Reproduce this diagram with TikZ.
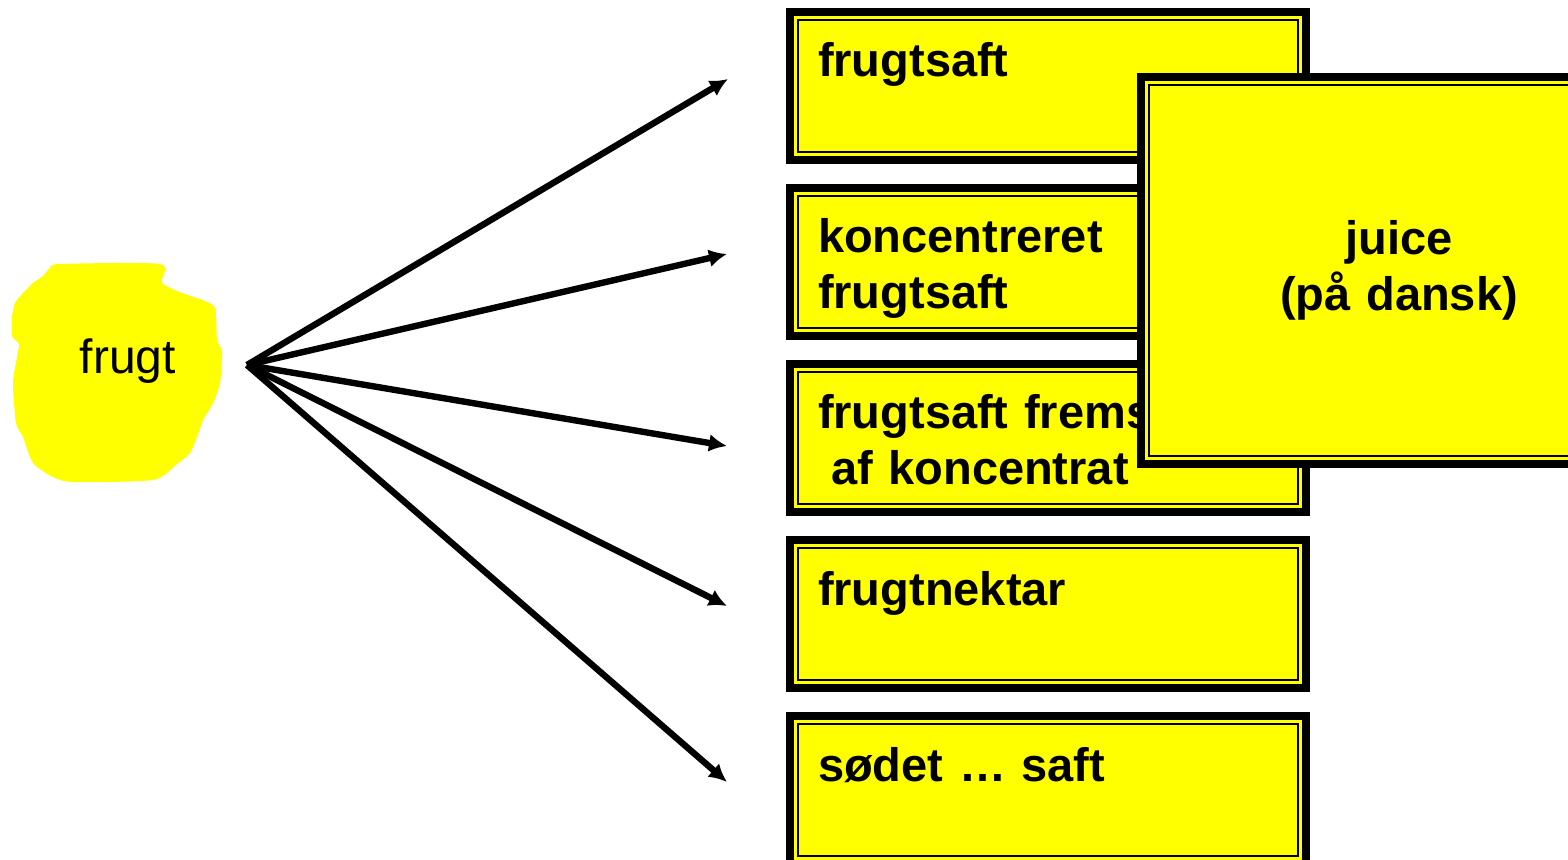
\documentclass[tikz,border=0pt]{standalone}
\usepackage{fontspec}
\setmainfont{Liberation Sans}
\usetikzlibrary{arrows.meta, positioning}
\definecolor{juiceyellow}{RGB}{255,255,0}
\tikzstyle{frame} = [draw, line width=4pt, fill=juiceyellow, anchor=north west, text width=230pt, inner xsep=14pt, inner ysep=0pt, font=\bfseries\fontsize{23.5}{28}\selectfont, path picture={\draw[line width=0.75pt] ([shift={(4pt,-4pt)}]path picture bounding box.north west) rectangle ([shift={(-4pt,4pt)}]path picture bounding box.south east);}]
\tikzstyle{box} = [frame, align=left, text height=32.5pt, text depth=41.5pt]
\tikzstyle{bigbox} = [frame, align=center, minimum height=193.5pt]
\tikzstyle{arrow} = [arrows=->, line width=3.2pt]

\begin{document}
\begin{tikzpicture}[x=0.5pt, y=-0.5pt, >={Latex[length=9pt,width=9pt]}]
    \useasboundingbox (0,0) rectangle (1568,860);
    \clip (0,0) rectangle (1568,860);

    % The fruit
    \fill[juiceyellow] plot[smooth cycle, tension=0.4] coordinates {(60,264) (160,264) (162,283) (182,293) (202,300) (215,308) (217,340) (222,352) (220,383) (213,403) (203,420) (197,437) (190,453) (177,464) (153,480) (73,482) (53,477) (33,463) (23,437) (16,423) (13,383) (17,357) (19,344) (12,336) (12,317) (15,303) (23,293) (33,283) (43,276) (50,268)};
    \node[anchor=base, font=\fontsize{24}{28}\selectfont] (frugt) at (128,374) {frugt};
    \coordinate (src) at (247,365);

    % Place the blocks
    \node[box] (b1) at (786,8) {frugtsaft};
    \node[box, below=10pt of b1] (b2) {koncentreret\\frugtsaft};
    \node[box, below=10pt of b2] (b3) {frugtsaft frems\\\hspace*{6.5pt}af koncentrat};
    \node[box, below=10pt of b3] (b4) {frugtnektar};
    \node[box, below=10pt of b4] (b5) {sødet … saft};
    \node[bigbox] (juice) at (1137,73) {juice\\(på dansk)};

    % Connect the nodes
    \coordinate (e1) at (728,79);
    \coordinate (e2) at (727,254);
    \coordinate (e3) at (727,446);
    \coordinate (e4) at (727,606);
    \coordinate (e5) at (727,782);
    \foreach \e in {e1,e2,e3,e4,e5}
        \draw[arrow] (src) -- (\e);
\end{tikzpicture}
\end{document}
